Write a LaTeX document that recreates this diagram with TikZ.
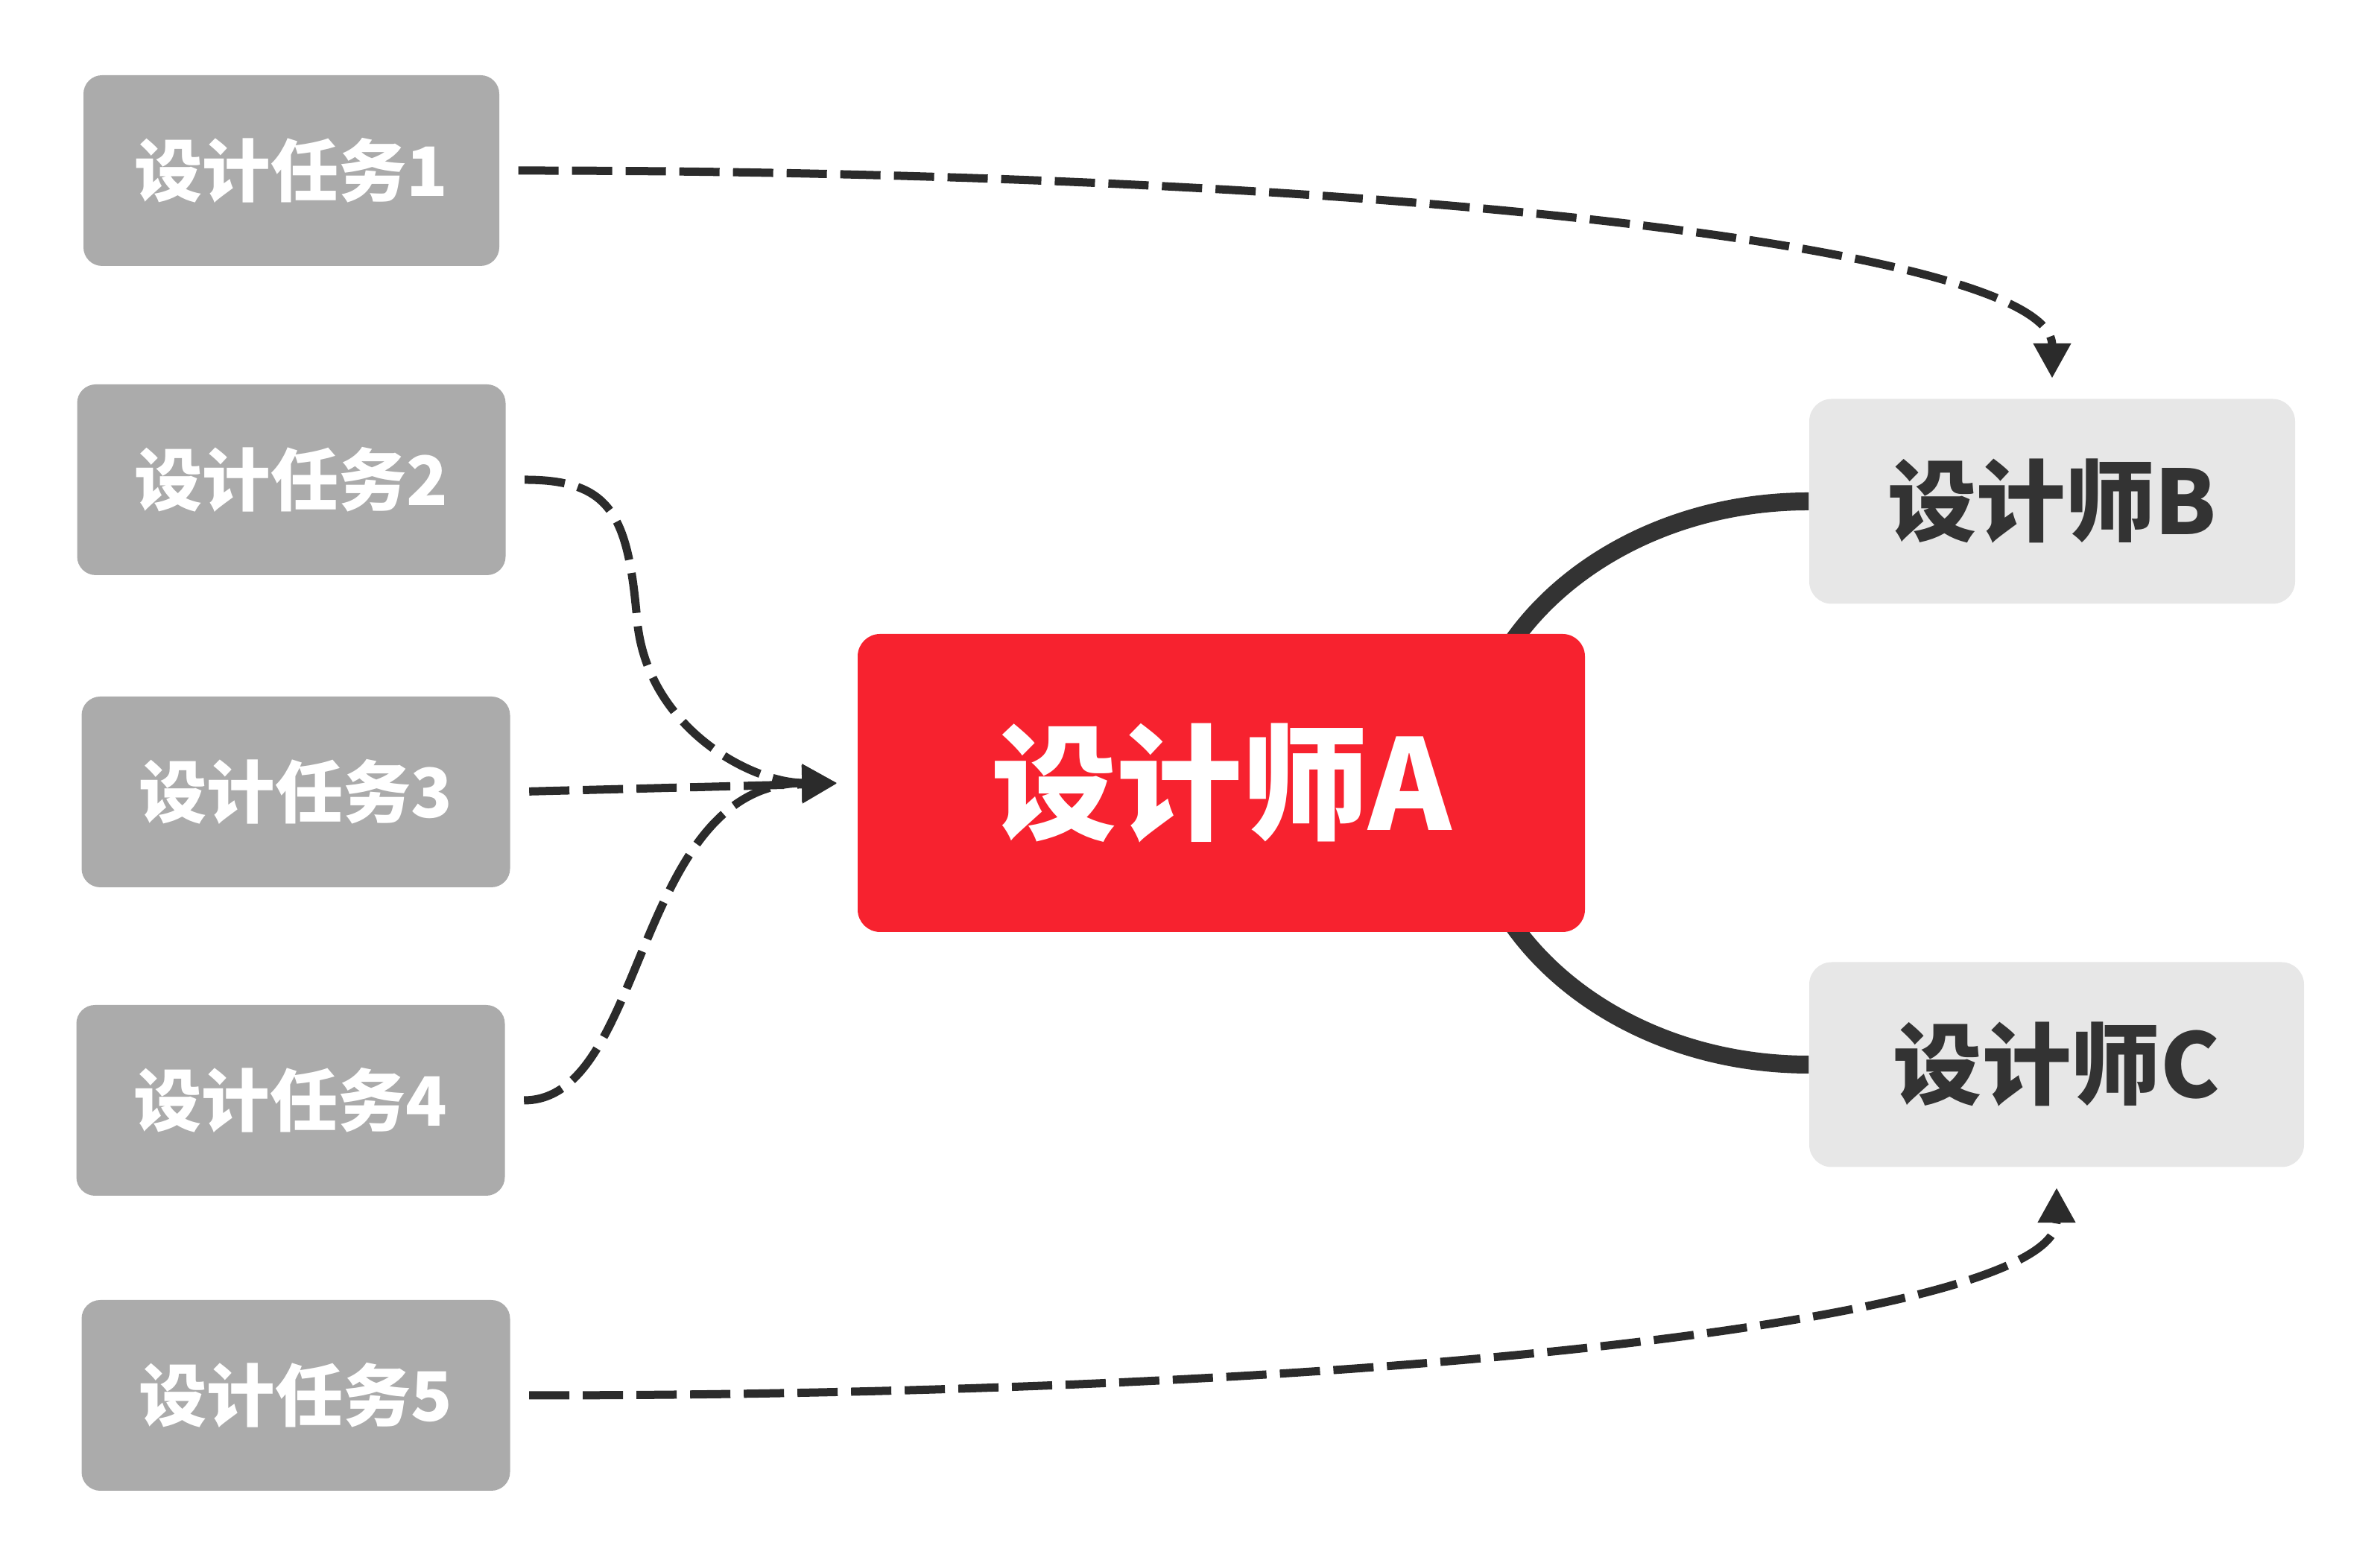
\documentclass[tikz,border=0pt]{standalone}
\usepackage{fontspec}
\usepackage{tikz}
\usetikzlibrary{arrows.meta,backgrounds}
\newfontfamily\cjk{Noto Sans CJK SC}
\definecolor{TaskGray}{HTML}{ABABAB}
\definecolor{LeadRed}{HTML}{F7222F}
\definecolor{PeerGray}{HTML}{E7E7E7}
\definecolor{LineInk}{HTML}{2B2B2B}
\definecolor{TextInk}{HTML}{333333}

\begin{document}
\begin{tikzpicture}[
  taskbox/.style={rounded corners=0.25cm, fill=TaskGray, inner sep=0pt,
               minimum width=5.75cm, minimum height=2.56cm,
               text=white, font=\cjk\bfseries\fontsize{26}{30}\selectfont},
  leadbox/.style={rounded corners=0.3cm, fill=LeadRed, inner sep=0pt,
               minimum width=9.76cm, minimum height=4cm,
               text=white, font=\cjk\bfseries\fontsize{48}{56}\selectfont},
  peerbox/.style={rounded corners=0.3cm, fill=PeerGray, inner sep=0pt,
               minimum width=6.52cm, minimum height=2.75cm,
               text=TextInk, font=\cjk\bfseries\fontsize{34}{40}\selectfont},
  flow/.style={-{Triangle[length=0.47cm, width=0.48cm]}, line width=0.11cm,
               draw=LineInk, dash pattern=on 0.54cm off 0.18cm,
               shorten <=0.25cm, shorten >=0.27cm},
  tie/.style={line width=0.24cm, draw=TextInk}
]
\useasboundingbox (0,0) rectangle (31.94,21.02);
\node[taskbox, minimum width=5.58cm] (t1) at (3.91,18.73) {设计任务1};
\node[taskbox] (t2) at (3.91,14.58) {设计任务2};
\node[taskbox] (t3) at (3.97,10.39) {设计任务3};
\node[taskbox] (t4) at (3.90,6.25) {设计任务4};
\node[taskbox] (t5) at (3.97,2.29) {设计任务5};
\node[leadbox] (a) at (16.39,10.51) {设计师A};
\node[peerbox] (b) at (27.54,14.29) {设计师B};
\node[peerbox, minimum width=6.64cm] (c) at (27.60,6.73) {设计师C};
\coordinate (k2) at (8.55,12.7);
\begin{pgfonlayer}{background}
\draw[tie] (a.center) ++(3.29,0) .. controls +(0,2.09) and +(-2.54,0) .. (b.west);
\draw[tie] (a.center) ++(3.29,0) .. controls +(0,-2.09) and +(-2.54,0) .. (c.west);
\end{pgfonlayer}
\draw[flow] (t1.east) .. controls +(12,0) and +(0,2) .. (b.north);
\draw[flow] (t2.east) to[out=0, in=95, looseness=1.4] (k2)
  to[out=-85, in=180] (a.west);
\draw[flow] (t3.east) -- (a.west);
\draw[flow] (t4.east) .. controls +(1.9,0) and +(-3,0) .. (a.west);
\draw[flow] (t5.east) .. controls +(12,0) and +(0,-2) .. (c.south);
\end{tikzpicture}
\end{document}
